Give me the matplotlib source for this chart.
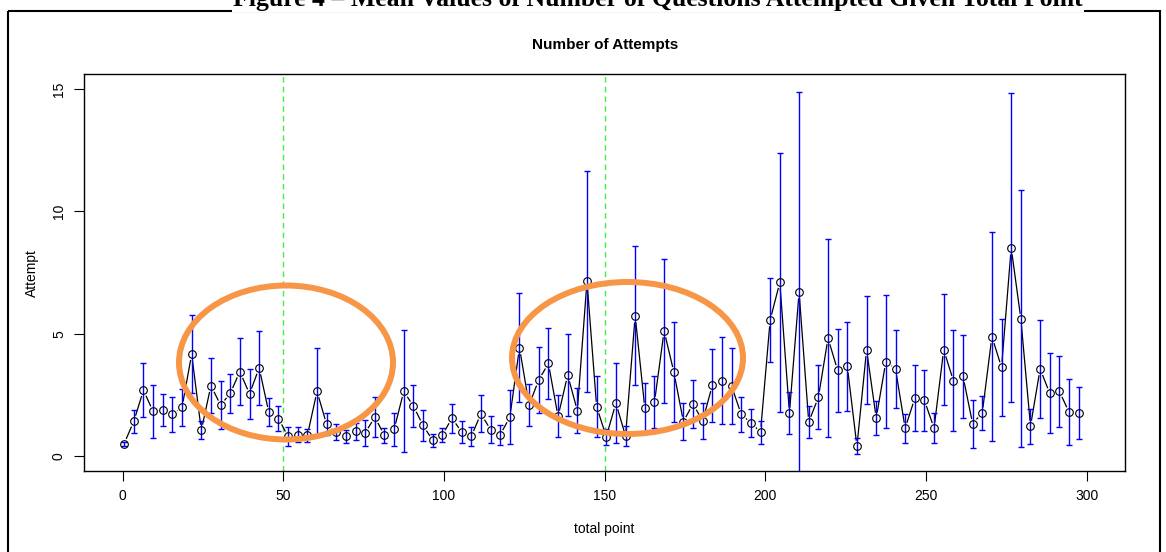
import numpy as np
import matplotlib
matplotlib.use("Agg")
import matplotlib.pyplot as plt
from matplotlib.patches import Ellipse, Rectangle

plt.rcParams['font.family'] = ['Liberation Sans', 'DejaVu Sans']

# mean number of attempts per total-point bin, and error half-widths
total_point = 0.5 + 3 * np.arange(100)
attempt_mean = [
    0.52, 1.43, 2.70, 1.83, 1.90, 1.71, 2.00, 4.17, 1.06, 2.89,
    2.09, 2.57, 3.46, 2.55, 3.61, 1.80, 1.54, 0.81, 0.88, 0.85,
    2.65, 1.30, 0.99, 0.81, 1.02, 0.96, 1.60, 0.85, 1.11, 2.65,
    2.05, 1.26, 0.65, 0.87, 1.56, 0.99, 0.81, 1.74, 1.09, 0.88,
    1.60, 4.44, 2.10, 3.12, 3.79, 1.63, 3.32, 1.87, 7.15, 2.03,
    0.80, 2.17, 0.83, 5.74, 1.96, 2.21, 5.12, 3.46, 1.42, 2.14,
    1.44, 2.90, 3.09, 2.87, 1.71, 1.37, 0.99, 5.57, 7.10, 1.78,
    6.70, 1.40, 2.41, 4.82, 3.51, 3.67, 0.41, 4.35, 1.56, 3.87,
    3.57, 1.15, 2.37, 2.28, 1.15, 4.35, 3.09, 3.27, 1.33, 1.78,
    4.89, 3.63, 8.52, 5.61, 1.23, 3.57, 2.57, 2.65, 1.80, 1.78,
]
attempt_err = [
    0.08, 0.47, 1.10, 1.08, 0.65, 0.72, 0.75, 1.59, 0.37, 1.11,
    0.98, 0.81, 1.38, 1.03, 1.50, 0.57, 0.52, 0.37, 0.31, 0.25,
    1.77, 0.45, 0.32, 0.28, 0.34, 0.53, 0.82, 0.30, 0.67, 2.49,
    0.87, 0.65, 0.25, 0.28, 0.59, 0.45, 0.40, 0.75, 0.56, 0.41,
    1.09, 2.24, 0.87, 1.35, 1.46, 0.86, 1.66, 0.90, 4.51, 1.25,
    0.32, 1.64, 0.40, 2.84, 1.02, 1.06, 2.94, 2.04, 0.75, 0.98,
    0.73, 1.48, 1.77, 1.55, 0.73, 0.57, 0.47, 1.73, 5.30, 0.85,
    8.17, 0.67, 1.30, 4.05, 1.70, 1.82, 0.33, 2.21, 0.69, 2.73,
    1.59, 0.59, 1.35, 1.23, 0.61, 2.27, 2.07, 1.70, 0.98, 0.69,
    4.26, 1.98, 6.30, 5.25, 0.71, 1.99, 1.63, 1.45, 1.34, 1.07,
]
cut_points = [50, 150]
header = "Figure 4 \u2013 Mean Values of Number of Questions Attempted Given Total Point"

W, H = 1166, 552
fig = plt.figure(figsize=(W / 100, H / 100), dpi=100)
ax = fig.add_axes([84 / W, 1 - 471 / H, (1125.3 - 84) / W, (471 - 74.3) / H])

# R type="b": line with gaps around the points
ax.plot(total_point, attempt_mean, color='black', lw=0.9, zorder=2)
ax.plot(total_point, attempt_mean, ls='none', marker='o', ms=8.5, mfc='white',
        mec='none', zorder=3)
ax.errorbar(total_point, attempt_mean, yerr=attempt_err, fmt='none',
            ecolor='#0000ff', elinewidth=1, capsize=2.5, capthick=1, zorder=4)
ax.plot(total_point, attempt_mean, ls='none', marker='o', ms=5.5, mfc='none',
        mec='black', mew=0.8, zorder=5)
for c in cut_points:
    ax.axvline(c, color='#44ee44', ls=(0, (4, 3)), lw=1, zorder=1)

ax.set_xlim(-12, 312)
ax.set_ylim(-0.6, 15.6)
ax.set_xticks([0, 50, 100, 150, 200, 250, 300])
ax.set_yticks([0, 5, 10, 15])
ax.tick_params(direction='out', length=7, width=0.8, labelsize=10, pad=6)
plt.setp(ax.get_yticklabels(), rotation=90, va='center')
for s in ax.spines.values():
    s.set_linewidth(1)
ax.set_title("Number of Attempts", fontsize=11, fontweight='bold', pad=18)
ax.set_xlabel("total point", fontsize=10, labelpad=14)
ax.set_ylabel("Attempt", fontsize=10, labelpad=9)

# overlay: page frame, cut-off caption, hand-drawn highlight ellipses
ov = fig.add_axes([0, 0, 1, 1], zorder=10)
ov.set_xlim(0, W)
ov.set_ylim(H, 0)
ov.axis('off')
ov.patch.set_alpha(0)
ov.add_patch(Rectangle((8, 11), 1152, 560, fill=False, ec='black', lw=1.5))
ov.text(658, 6, header, ha='center', va='baseline', fontsize=18.5,
        fontweight='bold', family=['Liberation Serif', 'DejaVu Serif'],
        bbox=dict(fc='white', ec='none', pad=1))
ov.add_patch(Ellipse((286, 362.5), 214, 154, fill=False, ec='#f79646', lw=4.3))
ov.add_patch(Ellipse((627.5, 358), 231, 152, fill=False, ec='#f79646', lw=4.3))

fig.savefig("out.png", dpi=100)
